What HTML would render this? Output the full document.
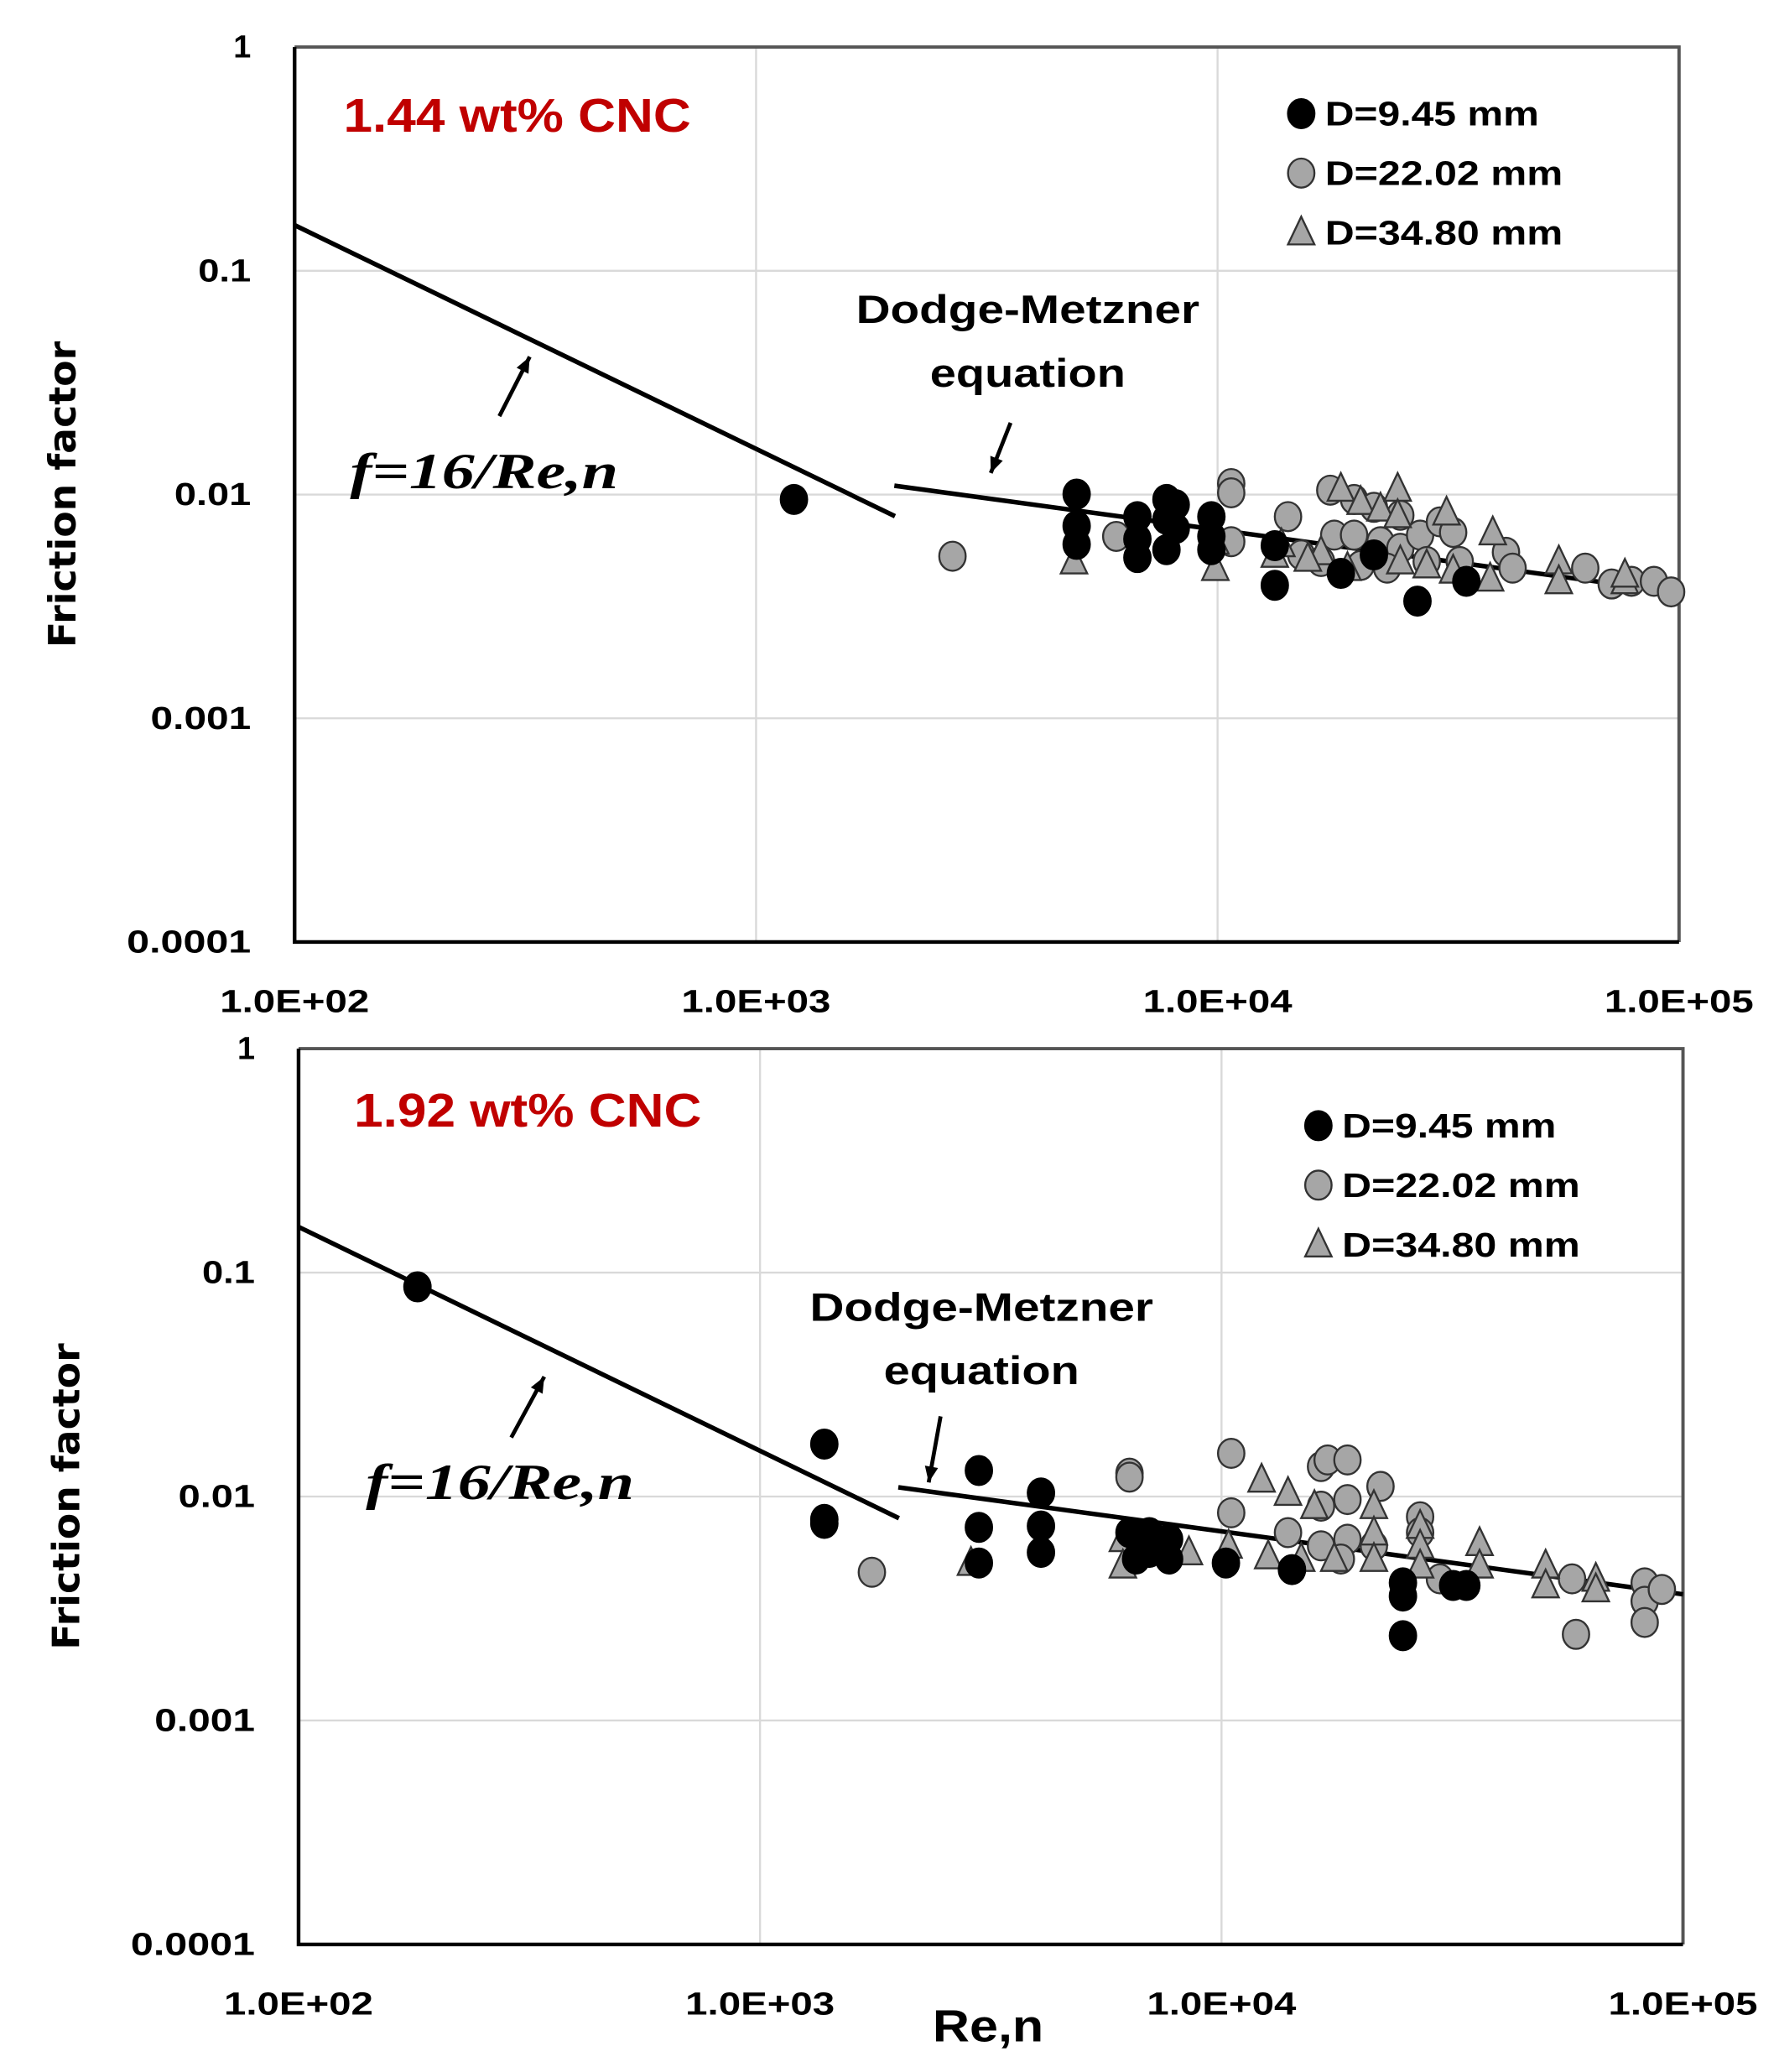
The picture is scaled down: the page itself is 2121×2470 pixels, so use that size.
<!DOCTYPE html>
<html><head><meta charset="utf-8"><style>html,body{margin:0;padding:0;background:#fff}svg{display:block}</style></head>
<body>
<svg id="s" width="2121" height="2470" viewBox="0 0 1346.67 1568.25" xmlns="http://www.w3.org/2000/svg" font-family="Liberation Sans, sans-serif" font-weight="bold">
<rect width="1346.67" height="1568.25" fill="#fff"/>
<g id="g1"></g>
<g id="g2"></g>
</svg>
<script>
const NS="http://www.w3.org/2000/svg";
function el(p,t,a,txt){const e=document.createElementNS(NS,t);for(const k in a)e.setAttribute(k,a[k]);if(txt!==undefined)e.textContent=txt;p.appendChild(e);return e;}
function chart(g,L,T,R,B,cfg){
  const dx=(R-L)/3, dy=(B-T)/4;
  for(let i=1;i<3;i++) el(g,'line',{x1:L+i*dx,y1:T,x2:L+i*dx,y2:B,stroke:'#d9d9d9','stroke-width':1.5});
  for(let i=1;i<4;i++) el(g,'line',{x1:L,y1:T+i*dy,x2:R,y2:T+i*dy,stroke:'#d9d9d9','stroke-width':1.5});
  el(g,'path',{d:`M${L} ${T}H${R}V${B}`,fill:'none',stroke:'#555','stroke-width':2.5});
  el(g,'path',{d:`M${L} ${T}V${B}H${R}`,fill:'none',stroke:'#000','stroke-width':2.8});
  const yl=['1','0.1','0.01','0.001','0.0001'], ylw=[0,40,58,76,94];
  yl.forEach((t,i)=>{const a={x:L-33,y:T+i*dy+8,'text-anchor':'end','font-size':24};if(ylw[i]){a.textLength=ylw[i];a.lengthAdjust='spacingAndGlyphs';}el(g,'text',a,t);});
  ['1.0E+02','1.0E+03','1.0E+04','1.0E+05'].forEach((t,i)=>el(g,'text',{x:L+i*dx,y:B+53,'text-anchor':'middle','font-size':24,textLength:113,lengthAdjust:'spacingAndGlyphs'},t));
  el(g,'text',{transform:`translate(${L-166},${(T+B)/2}) rotate(-90)`,'text-anchor':'middle','font-size':28,'font-family':'DejaVu Sans, sans-serif',textLength:232,lengthAdjust:'spacingAndGlyphs'},'Friction factor');
  const px=r=>L+Math.log10(r/100)*dx, py=f=>T-Math.log10(f)*dy;
  el(g,'line',{x1:px(100),y1:py(0.16),x2:px(2000),y2:py(0.008),stroke:'#000','stroke-width':3.5});
  el(g,'line',{x1:L+454,y1:T+332,x2:R,y2:T+413,stroke:'#000','stroke-width':3.5});
  el(g,'text',{x:L+37+cfg.tx,y:T+64+cfg.ty,'font-size':36,fill:'#c00000',textLength:263,lengthAdjust:'spacingAndGlyphs'},cfg.title);
  el(g,'text',{x:L+555+cfg.dmx,y:T+209+cfg.dmy,'text-anchor':'middle','font-size':30,textLength:260,lengthAdjust:'spacingAndGlyphs'},'Dodge-Metzner');
  el(g,'text',{x:L+555+cfg.dmx,y:T+257+cfg.dmy,'text-anchor':'middle','font-size':30,textLength:148,lengthAdjust:'spacingAndGlyphs'},'equation');
  el(g,'text',{x:L+42+cfg.fx,y:T+334+cfg.fy,'font-size':38,'font-style':'italic','font-family':'Liberation Serif, serif',textLength:203,lengthAdjust:'spacingAndGlyphs'},'f=16/Re,n');
  cfg.arrows.forEach(a=>{const [x1,y1,x2,y2]=a;el(g,'line',{x1,y1,x2,y2,stroke:'#000','stroke-width':3});
    const ang=Math.atan2(y2-y1,x2-x1),h=13;
    el(g,'path',{d:`M${x2} ${y2}L${x2-h*Math.cos(ang-0.4)} ${y2-h*Math.sin(ang-0.4)}L${x2-h*Math.cos(ang+0.4)} ${y2-h*Math.sin(ang+0.4)}Z`,fill:'#000'});});
  const circ=(x,y,f)=>el(g,'ellipse',{cx:x,cy:y,rx:10,ry:11,fill:f,stroke:f=='#000'?'#000':'#333','stroke-width':1.5});
  const tri=(x,y)=>el(g,'path',{d:`M${x} ${y-12}L${x+10} ${y+9}L${x-10} ${y+9}Z`,fill:'#a6a6a6',stroke:'#333','stroke-width':1.5});
  cfg.gray.forEach(p=>circ(p[0],p[1],'#a6a6a6'));
  cfg.tri.forEach(p=>tri(p[0],p[1]));
  cfg.black.forEach(p=>circ(p[0],p[1],'#000'));
  const lx=cfg.lx, ly=cfg.ly;
  circ(lx,ly,'#000');circ(lx,ly+45,'#a6a6a6');tri(lx,ly+90);
  [['D=9.45 mm',162],['D=22.02 mm',180],['D=34.80 mm',180]].forEach((t,i)=>el(g,'text',{x:lx+18,y:ly+9+45*i,'font-size':26,textLength:t[1],lengthAdjust:'spacingAndGlyphs'},t[0]));
}
chart(document.getElementById('g1'),223,35.6,1271,713,{title:'1.44 wt% CNC',tx:0,ty:0,dmx:0,dmy:0,fx:0,fy:0,lx:985,ly:86,
arrows:[[378,315,401,270],[765,320,750,358]],
black:[[601,378],[815,374],[815,398],[815,412],[861,391],[861,408],[861,422],[883,378],[883,393],[883,416],[890,382],[890,400],[917,391],[917,406],[917,416],[965,413],[965,443],[1015,434],[1073,455],[1110,440],[1040,420]],
gray:[[721,421],[845,406],[932,366],[932,373],[932,410],[975,391],[1007,371],[1025,378],[1040,384],[1060,390],[1010,405],[1025,405],[1045,410],[1060,415],[1075,405],[1090,395],[1100,403],[1080,425],[1105,425],[1140,418],[1145,430],[1200,430],[1220,442],[1235,440],[1252,440],[1265,448],[985,420],[1000,425],[1030,428],[1050,430]],
tri:[[813,425],[920,410],[920,430],[970,412],[1000,418],[1015,370],[1030,380],[1045,385],[1058,370],[1058,390],[1095,388],[1130,403],[1180,425],[1180,440],[1230,440],[1230,435],[990,423],[1020,430],[1060,425],[1080,428],[1100,432],[1128,438],[965,420]]});
chart(document.getElementById('g2'),226,793.7,1274,1471.7,{title:'1.92 wt% CNC',tx:5,ty:-5,dmx:-38,dmy:-3,fx:9,fy:7,lx:998,ly:852,
arrows:[[387,1088,412,1042],[712,1072,703,1122]],
black:[[316,974],[624,1093],[624,1150],[624,1153],[741,1113],[741,1156],[741,1183],[788,1130],[788,1155],[788,1175],[855,1160],[870,1160],[870,1175],[885,1165],[885,1180],[860,1180],[928,1183],[978,1188],[1062,1198],[1062,1208],[1062,1238],[1100,1200],[1110,1200]],
gray:[[660,1190],[855,1115],[855,1118],[932,1100],[932,1145],[975,1160],[1000,1110],[1005,1105],[1020,1105],[1000,1140],[1020,1135],[1045,1125],[1075,1148],[1020,1165],[1040,1170],[1015,1180],[1090,1195],[1190,1195],[1193,1237],[1245,1198],[1245,1212],[1245,1228],[1258,1203],[1000,1170],[1075,1160]],
tri:[[735,1183],[850,1165],[850,1185],[955,1120],[975,1130],[995,1140],[930,1170],[960,1178],[985,1180],[1040,1140],[1040,1160],[1040,1180],[1075,1155],[1075,1170],[1075,1185],[1120,1168],[1120,1185],[1170,1185],[1170,1200],[1208,1195],[1208,1203],[900,1175],[1010,1180]]});
el(document.getElementById('s'),'text',{x:748,y:1545,'text-anchor':'middle','font-size':34,textLength:84,lengthAdjust:'spacingAndGlyphs'},'Re,n');
</script>
</body></html>
